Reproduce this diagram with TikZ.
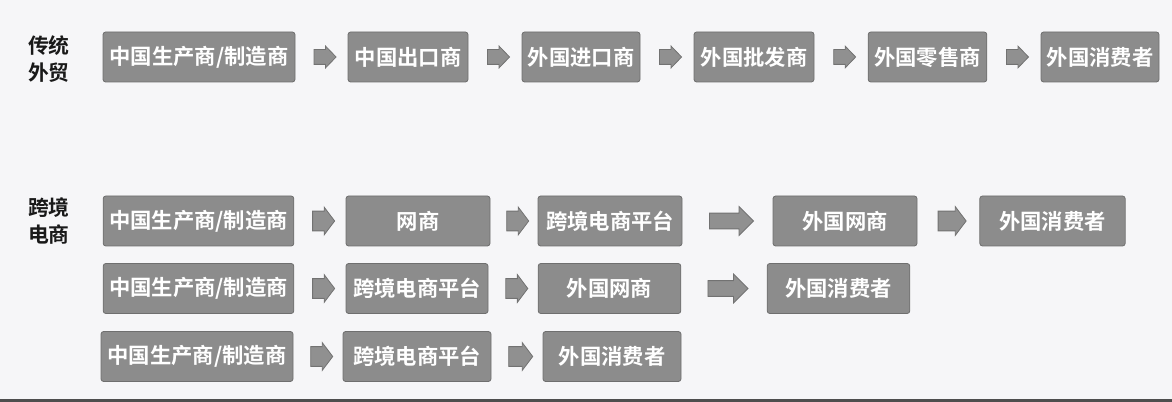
\documentclass[tikz,border=0pt]{standalone}
\usepackage{fontspec}
\usepackage{tikz}
\usetikzlibrary{shapes.arrows,calc}
\newfontfamily\cjk{Noto Sans CJK SC}[BoldFont={Noto Sans CJK SC Bold}]

\definecolor{bgcol}{HTML}{F6F6F8}
\definecolor{barcol}{HTML}{4E4E4E}
\definecolor{boxfill}{HTML}{8C8C8C}
\definecolor{boxline}{HTML}{6F6F6F}
\definecolor{arrfill}{HTML}{909090}
\definecolor{arrline}{HTML}{727272}

\tikzset{
  box/.style={draw=boxline, fill=boxfill, rounded corners=2pt, line width=0.6pt,
    text=white, font=\cjk\bfseries\fontsize{16}{18}\selectfont,
    minimum height=37.5pt, inner sep=0pt},
  side/.style={text=black!90, font=\cjk\bfseries\fontsize{15.6}{20}\selectfont,
    align=center, inner sep=0pt},
  flow/.style={single arrow, draw=arrline, fill=arrfill, line width=0.6pt,
    inner xsep=0pt, inner ysep=5.25pt, minimum height=16.5pt,
    single arrow head extend=2.6pt, single arrow tip angle=92},
  flowtall/.style={flow, inner ysep=7.1pt, single arrow head extend=3pt,
    single arrow tip angle=106},
  flowwide/.style={flow, minimum height=33pt, inner ysep=5.6pt,
    single arrow head extend=4.9pt, single arrow tip angle=90},
}

\begin{document}
\begin{tikzpicture}[x=0.75pt,y=0.75pt,yscale=-1,xscale=1]
%background and bottom bar
\fill[bgcol] (0,0) rectangle (1172,402);
\fill[barcol] (0,399) rectangle (1172,402);

%side labels
\node[side] (lt) at (49,59) {传统\\外贸};
\node[side] (le) at (49,221) {跨境\\电商};

%traditional trade
\node[box, minimum width=144pt] (t1) at (199,57) {中国生产商/制造商};
\node[box, minimum width=90pt] (t2) at (408,57) {中国出口商};
\node[box, minimum width=88.5pt] (t3) at (581,57) {外国进口商};
\node[box, minimum width=90pt] (t4) at (754,57) {外国批发商};
\node[box, minimum width=89pt] (t5) at (927.5,57) {外国零售商};
\node[box, minimum width=88.5pt] (t6) at (1100,57) {外国消费者};

\node[flow] (ta1) at ($(t1.east)!.5!(t2.west)$) {};
\node[flow] (ta2) at ($(t2.east)!.5!(t3.west)$) {};
\node[flow] (ta3) at ($(t3.east)!.5!(t4.west)$) {};
\node[flow] (ta4) at ($(t4.east)!.5!(t5.west)$) {};
\node[flow] (ta5) at ($(t5.east)!.5!(t6.west)$) {};

%cross-border e-commerce, first route
\node[box, minimum width=143pt] (e1) at (198.5,221) {中国生产商/制造商};
\node[box, minimum width=108pt] (e2) at (418,221) {网商};
\node[box, minimum width=108pt] (e3) at (610,221) {跨境电商平台};
\node[box, minimum width=108pt] (e4) at (845,221) {外国网商};
\node[box, minimum width=109pt] (e5) at (1052.5,221) {外国消费者};

\node[flowtall] (ea1) at ($(e1.east)!.5!(e2.west)$) {};
\node[flowtall] (ea2) at ($(e2.east)!.5!(e3.west)$) {};
\node[flowwide] (ea3) at ($(e3.east)!.5!(e4.west)$) {};
\node[flowtall, minimum height=21pt, single arrow head extend=3.4pt] (ea4) at ($(e4.east)!.5!(e5.west)$) {};

%second route
\node[box, minimum width=143pt] (f1) at (198.5,288.5) {中国生产商/制造商};
\node[box, minimum width=106.5pt] (f2) at (417,288.5) {跨境电商平台};
\node[box, minimum width=107pt] (f3) at (609.5,288.5) {外国网商};
\node[box, minimum width=107pt] (f4) at (838.5,288.5) {外国消费者};

\node[flowtall] (fa1) at ($(f1.east)!.5!(f2.west)$) {};
\node[flowtall] (fa2) at ($(f2.east)!.5!(f3.west)$) {};
\node[flowwide, minimum height=30pt] (fa3) at ($(f3.east)!.5!(f4.west)$) {};

%third route
\node[box, minimum width=144pt] (g1) at (197,356.5) {中国生产商/制造商};
\node[box, minimum width=111pt] (g2) at (417,356.5) {跨境电商平台};
\node[box, minimum width=103.5pt] (g3) at (612,356.5) {外国消费者};

\node[flowtall] (ga1) at ($(g1.east)!.5!(g2.west)$) {};
\node[flowtall, minimum height=18pt] (ga2) at ($(g2.east)!.5!(g3.west)$) {};

\end{tikzpicture}
\end{document}
